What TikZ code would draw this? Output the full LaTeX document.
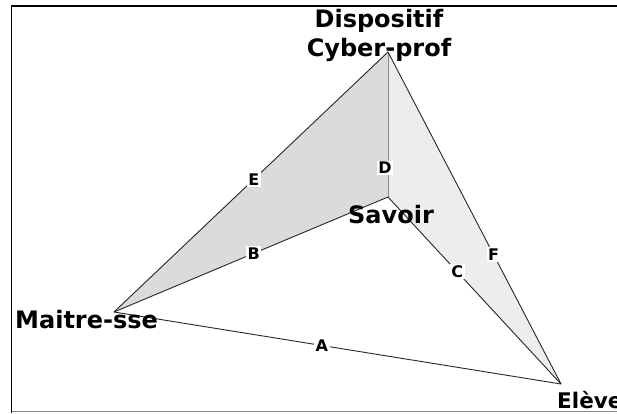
\documentclass[tikz,border=0pt]{standalone}
\usepackage{fontspec}
\setmainfont{DejaVu Sans}
\begin{document}
\begin{tikzpicture}[x=1pt,y=1pt,
  title/.style={font=\bfseries\fontsize{24}{28}\selectfont, inner sep=0pt},
  lab/.style={font=\bfseries\fontsize{16}{18}\selectfont, fill=white, inner sep=1.5pt},
  edge/.style={draw=black!85, line width=0.9pt}]
\useasboundingbox (0,0) rectangle (617,413);
\begin{scope}
\clip (0,0) rectangle (617,413);
\draw[line width=1.6pt] (11.5,0) -- (11.5,407) -- (620,407);
\draw[line width=1.2pt, black!45] (11.5,1.5) -- (620,1.5);
\end{scope}
\coordinate (T) at (388,361);
\coordinate (S) at (388,216);
\coordinate (M) at (114,101);
\coordinate (L) at (561,29);
\fill[black!14] (T) -- (M) -- (S) -- cycle;
\fill[black!7] (T) -- (S) -- (L) -- cycle;
\draw[edge] (M) -- (L) node[lab, pos=0.465] (A) {A};
\draw[edge] (T) -- (M) node[lab, pos=0.49] (E) {E};
\draw[edge] (M) -- (S) node[lab, pos=0.51] (B) {B};
\draw[draw=black!45, line width=0.9pt] (T) -- (S) node[lab, pos=0.8, xshift=-3pt] (D) {D};
\draw[edge] (S) -- (L) node[lab, pos=0.4] (C) {C};
\draw[edge] (T) -- (L) node[lab, pos=0.61] (F) {F};
\begin{scope}
\clip (0,0) rectangle (617,413);
\node[title, font=\bfseries\fontsize{21.5}{25}\selectfont, anchor=base west] (elev) at (557,5) {Elève};
\end{scope}
\node[title, anchor=base] (disp) at (379,385) {Dispositif};
\node[title, anchor=base] (cyber) at (379,356) {Cyber-prof};
\node[title, anchor=base west] (mait) at (15,85) {Maitre-sse};
\node[title, anchor=base west] (sav) at (348,190) {Savoir};
\end{tikzpicture}
\end{document}
